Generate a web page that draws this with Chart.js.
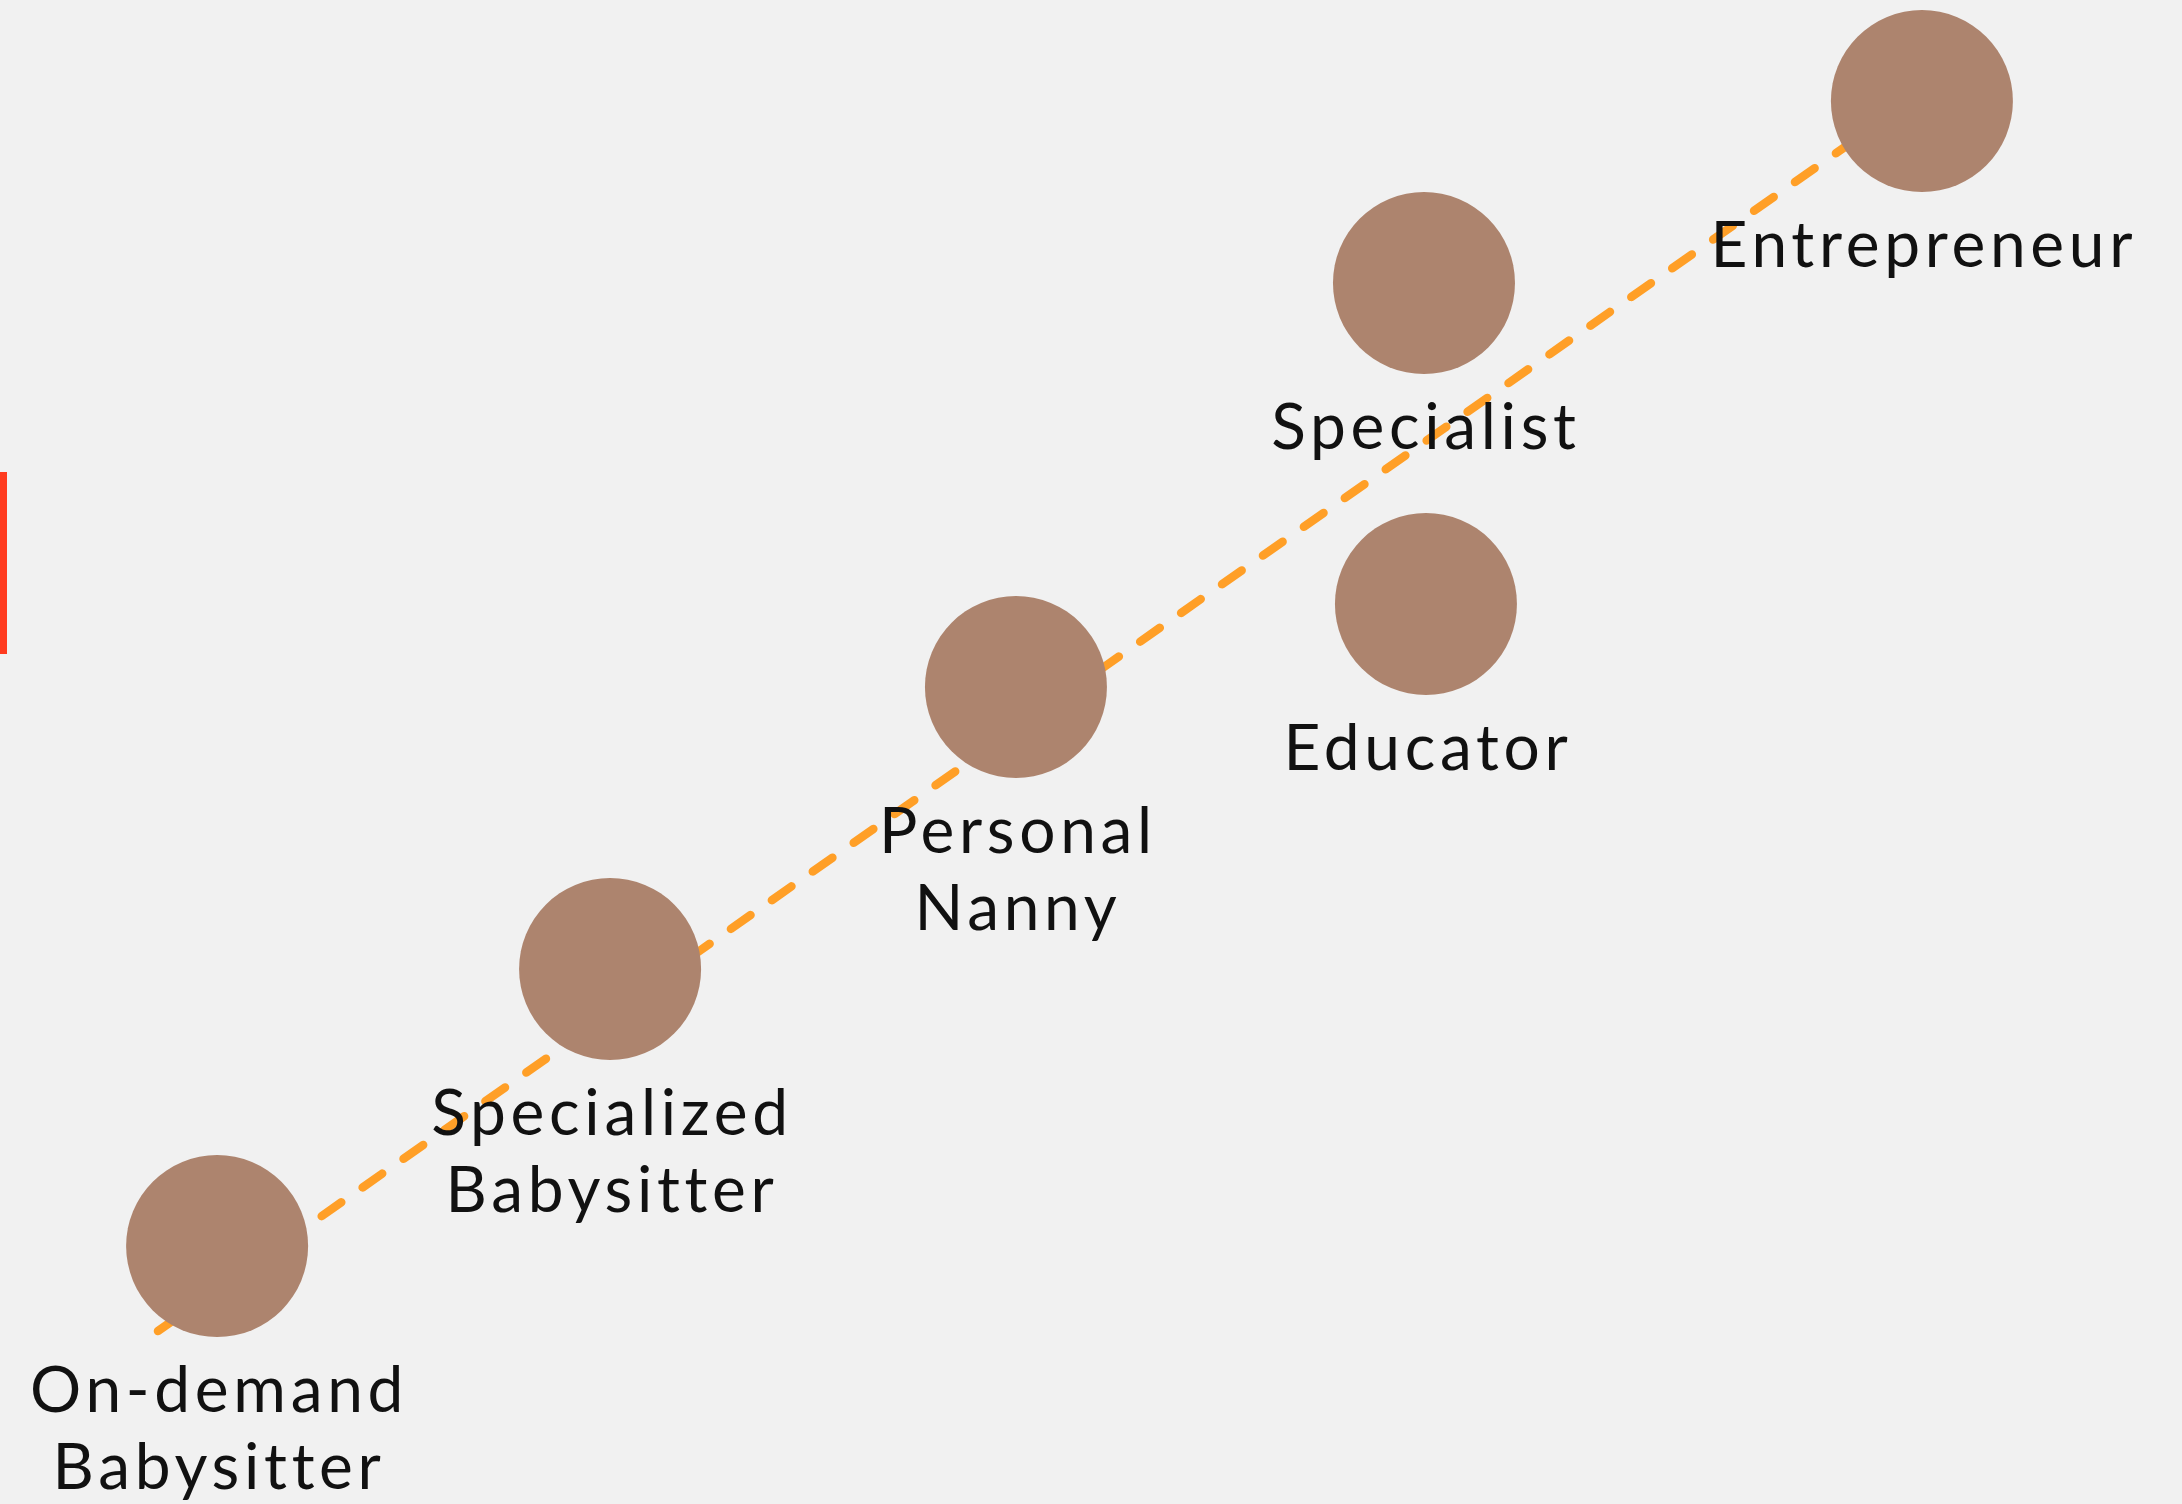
<!DOCTYPE html>
<html>
<head>
<meta charset="utf-8">
<script src="https://cdn.jsdelivr.net/npm/chart.js@4.4.1/dist/chart.umd.min.js"></script>
<style>
  html, body { margin: 0; padding: 0; background: #f1f1f1; overflow: hidden; }
  #wrap { position: relative; width: 2182px; height: 1504px; }
  #accent { position: absolute; left: 0; top: 472px; width: 7px; height: 182px; background: #ff3b1f; }
</style>
</head>
<body>
<div id="wrap">
  <canvas id="chart-path"></canvas>
  <div id="accent"></div>
</div>
<script>
// career stages: label lines, x position (progression), y position (level)
const roles = [
  ['On-demand', 'Babysitter'],
  ['Specialized', 'Babysitter'],
  ['Personal', 'Nanny'],
  ['Specialist'],
  ['Educator'],
  ['Entrepreneur']
];
const roleX = [9.95, 27.96, 46.56, 65.26, 65.35, 88.08];
const roleY = [17.15, 35.57, 54.32, 81.18, 59.84, 93.28];

// dashed growth trend, start and end
const trendX = [7.24, 88.08];
const trendY = [11.5, 93.82];

const axisMin = 0, axisMax = 100;

// draws the role names under each circle
const roleLabels = {
  id: 'roleLabels',
  afterDatasetsDraw(chart) {
    const ctx = chart.ctx;
    const meta = chart.getDatasetMeta(0);
    ctx.save();
    ctx.fillStyle = '#111111';
    ctx.font = "400 64px 'Lato', sans-serif";
    ctx.letterSpacing = '4.7px';
    ctx.textAlign = 'center';
    ctx.textBaseline = 'alphabetic';
    meta.data.forEach((pt, i) => {
      roles[i].forEach((line, j) => {
        ctx.fillText(line, pt.x + 2, pt.y + 166 + j * 77);
      });
    });
    ctx.restore();
  }
};

new Chart(document.getElementById('chart-path'), {
  type: 'scatter',
  data: {
    datasets: [
      {
        label: 'Roles',
        data: roleX.map((x, i) => ({ x: x, y: roleY[i] })),
        backgroundColor: '#ad846e',
        borderWidth: 0,
        pointRadius: 91,
        pointHoverRadius: 91,
        clip: false,
        order: 0
      },
      {
        label: 'Trend',
        type: 'line',
        data: trendX.map((x, i) => ({ x: x, y: trendY[i] })),
        borderColor: '#ff9f27',
        borderWidth: 8.5,
        borderDash: [24, 26],
        borderCapStyle: 'round',
        pointRadius: 0,
        fill: false,
        clip: false,
        order: 1
      }
    ]
  },
  options: {
    responsive: true,
    maintainAspectRatio: false,
    animation: false,
    layout: { padding: 0, autoPadding: false },
    plugins: { legend: { display: false }, tooltip: { enabled: false } },
    scales: {
      x: { type: 'linear', min: axisMin, max: axisMax, display: false },
      y: { type: 'linear', min: axisMin, max: axisMax, display: false }
    }
  },
  plugins: [roleLabels]
});
</script>
</body>
</html>
